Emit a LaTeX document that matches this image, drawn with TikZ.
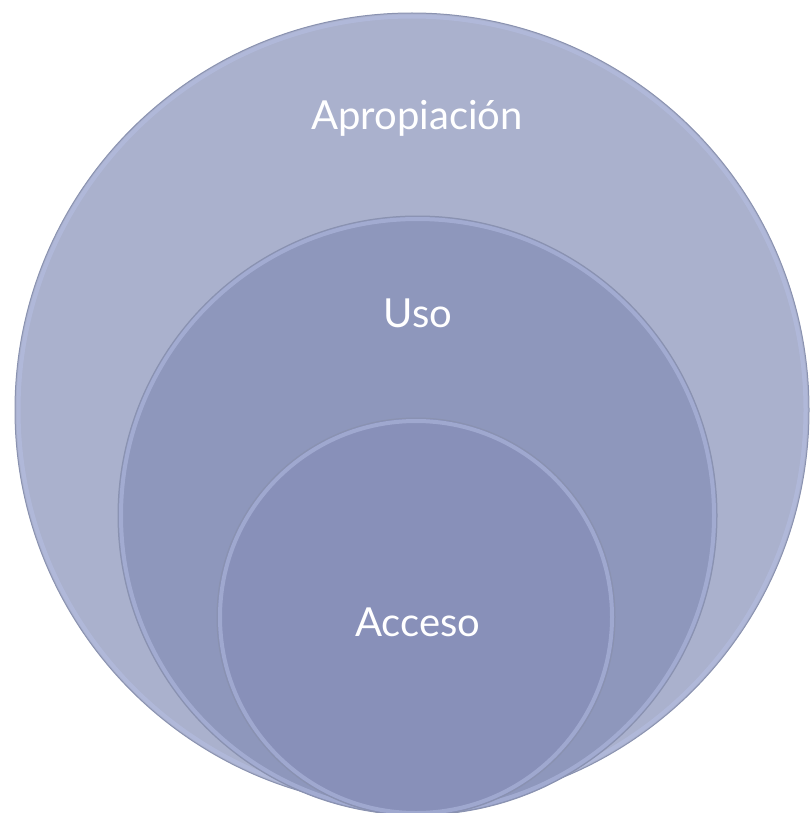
\documentclass[tikz,border=0pt]{standalone}
\usepackage{xcolor}
\definecolor{apropfill}{HTML}{AAB1CD}
\definecolor{usofill}{HTML}{8E97BC}
\definecolor{accesofill}{HTML}{8890B9}
\definecolor{rimline}{HTML}{8A92B0}
\definecolor{rimlight}{HTML}{B7C0E6}
\usepackage{fontspec}
\setmainfont{Lato}
\usepackage{tikz}

\begin{document}
\begin{tikzpicture}[x=1pt, y=-1pt]
                        \useasboundingbox (0, 0) rectangle (809, 813);
                        \node (apropiacion) at (412, 410) [circle, fill=apropfill, draw=rimline, line width=1, minimum size=794, inner sep=0] {};
                        \draw[rimlight, line width=4, opacity=0.5] (apropiacion.center) circle (393.5);
                        \node (uso) at (417.5, 515.5) [circle, fill=usofill, draw=rimline, line width=1, minimum size=599, inner sep=0] {};
                        \draw[rimlight, line width=4, opacity=0.5] (uso.center) circle (296.5);
                        \node (acceso) at (416, 617) [circle, fill=accesofill, draw=rimline, line width=1, minimum size=398, inner sep=0] {};
                        \draw[rimlight, line width=4, opacity=0.5] (acceso.center) circle (196);

                        \node (t1) at (417, 118) [text=white, font=\fontsize{40}{48}\selectfont] {Apropiación};
                        \node (t2) at (418, 313) [text=white, font=\fontsize{40}{48}\selectfont] {Uso};
                        \node (t3) at (418, 622) [text=white, font=\fontsize{40}{48}\selectfont] {Acceso};
                    \end{tikzpicture}
\end{document}
